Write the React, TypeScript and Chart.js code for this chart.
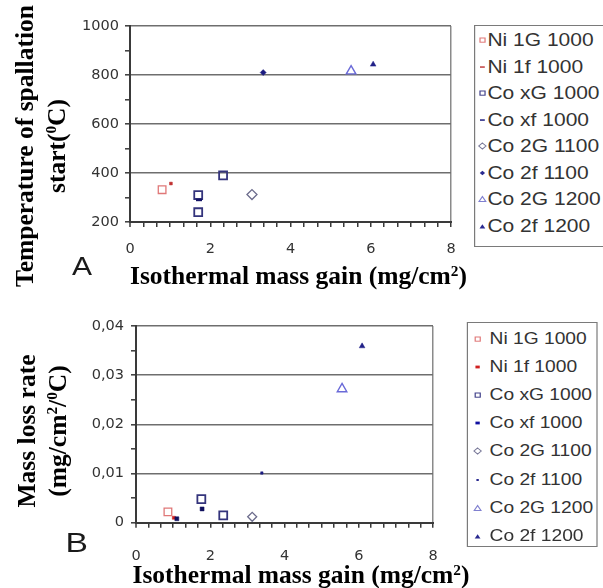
import React, { useEffect, useRef } from "react";
import { Chart, registerables } from "chart.js";

Chart.register(...registerables);

// ---------- DATA ----------
const seriesNames = [
  "Ni 1G 1000",
  "Ni 1f 1000",
  "Co xG 1000",
  "Co xf 1000",
  "Co 2G 1100",
  "Co 2f 1100",
  "Co 2G 1200",
  "Co 2f 1200",
];

const xTickValues = [0, 2, 4, 6, 8];
const xTickLabels = ["0", "2", "4", "6", "8"];
const spallTickValues = [200, 400, 600, 800, 1000];
const spallTickLabels = ["200", "400", "600", "800", "1000"];
const lossTickValues = [0, 0.01, 0.02, 0.03, 0.04];
const lossTickLabels = ["0", "0,01", "0,02", "0,03", "0,04"];

// Panel A: temperature of spallation start vs isothermal mass gain
const spallNi1G1000 = [[0.8, 332]];
const spallNi1f1000 = [[1.02, 357]];
const spallCoxG1000 = [[1.7, 310], [1.7, 240], [2.32, 390]];
const spallCoxf1000 = [[1.72, 290]];
const spallCo2G1100 = [[3.04, 312]];
const spallCo2f1100 = [[3.32, 810]];
const spallCo2G1200 = [[5.51, 816]];
const spallCo2f1200 = [[6.06, 843]];

// Panel B: mass loss rate vs isothermal mass gain
const lossNi1G1000 = [[0.86, 0.0022]];
const lossNi1f1000 = [[1.02, 0.001]];
const lossCoxG1000 = [[1.76, 0.0048], [2.35, 0.0015]];
const lossCoxf1000 = [[1.1, 0.0008], [1.78, 0.0028]];
const lossCo2G1100 = [[3.13, 0.0012]];
const lossCo2f1100 = [[3.39, 0.0101]];
const lossCo2G1200 = [[5.55, 0.0272]];
const lossCo2f1200 = [[6.09, 0.0359]];

// ---------- STYLES ----------
type Mark = { style: string; r: number; stroke: string; fill: string; bw: number };
const NONE = "rgba(0,0,0,0)";

const marksA: Mark[] = [
  { style: "rect", r: 5.4, stroke: "#e07878", fill: NONE, bw: 1.3 },
  { style: "rect", r: 2, stroke: "#c03030", fill: "#c03030", bw: 0.5 },
  { style: "rect", r: 5.6, stroke: "#34347c", fill: NONE, bw: 1.8 },
  { style: "line", r: 3, stroke: "#141466", fill: "#141466", bw: 2.5 },
  { style: "rectRot", r: 5, stroke: "#6c6c8c", fill: NONE, bw: 1.3 },
  { style: "rectRot", r: 3, stroke: "#1c1c80", fill: "#1c1c80", bw: 0.5 },
  { style: "triangle", r: 5.5, stroke: "#6a6ad8", fill: NONE, bw: 1.4 },
  { style: "triangle", r: 3.3, stroke: "#202088", fill: "#202088", bw: 0.5 },
];
const marksB: Mark[] = [
  { style: "rect", r: 5.4, stroke: "#e07878", fill: NONE, bw: 1.3 },
  { style: "rect", r: 2.2, stroke: "#d02020", fill: "#d02020", bw: 0.5 },
  { style: "rect", r: 5.6, stroke: "#34347c", fill: NONE, bw: 1.8 },
  { style: "rect", r: 2.8, stroke: "#10105e", fill: "#10105e", bw: 0.5 },
  { style: "rectRot", r: 4.5, stroke: "#6c6c8c", fill: NONE, bw: 1.3 },
  { style: "rect", r: 1.7, stroke: "#1c1c80", fill: "#1c1c80", bw: 0.5 },
  { style: "triangle", r: 5.5, stroke: "#6a6ad8", fill: NONE, bw: 1.4 },
  { style: "triangle", r: 3.3, stroke: "#202088", fill: "#202088", bw: 0.5 },
];

const legendA: [string, string][] = [
  ["osq", "#e07878"], ["dash", "#c04040"], ["osq", "#40408a"], ["dash", "#202080"],
  ["odia", "#7a7a9a"], ["fdia", "#2a2a90"], ["otri", "#8080d0"], ["ftri", "#2a2a90"],
];
const legendB: [string, string][] = [
  ["osq", "#e07878"], ["fsq", "#d02020"], ["osq", "#40408a"], ["fsq", "#1010a0"],
  ["odia", "#7a7a9a"], ["dot", "#2a2a90"], ["otri", "#8080d0"], ["ftri", "#2a2a90"],
];

const SX = 1.2; // horizontal stretch of the embedded legend / letter picture
const TICK_FONT = { family: "'DejaVu Sans', 'Liberation Sans', sans-serif", size: 14.5 };
const TITLE_FONT = "bold 25.5px 'Liberation Serif', 'Times New Roman', serif";
const X_MINOR = 1 / 3;

function labelFor(v: number, vals: number[], labels: string[]) {
  const i = vals.findIndex((t) => Math.abs(t - v) < 1e-9);
  return i >= 0 ? labels[i] : "";
}

type PanelCfg = {
  series: number[][][];
  marks: Mark[];
  yMin: number;
  yMax: number;
  yStep: number;
  yMinor: number;
  yVals: number[];
  yLabels: string[];
  yAxisW: number;
  padRight: number;
  padTop: number;
  xAxisH: number;
  xPad: number;
  yPad: number;
};

const CW = 410;
const CH = 252;

function isNear(v: number, t: number) {
  return Math.abs(v - t) < 1e-9;
}

function ScatterCanvas({ cfg, left, top }: { cfg: PanelCfg; left: number; top: number }) {
  const ref = useRef<HTMLCanvasElement>(null);
  useEffect(() => {
    const canvas = ref.current!;
    const datasets = cfg.series.map((pts, i) => ({
      label: seriesNames[i],
      data: pts.map(([x, y]) => ({ x, y })),
      pointStyle: cfg.marks[i].style as any,
      pointRadius: cfg.marks[i].r,
      pointBorderWidth: cfg.marks[i].bw,
      pointBorderColor: cfg.marks[i].stroke,
      pointBackgroundColor: cfg.marks[i].fill,
      borderColor: cfg.marks[i].stroke,
      backgroundColor: cfg.marks[i].fill,
      showLine: false,
      order: -i,
    }));
    const chart = new Chart(canvas, {
      type: "scatter",
      data: { datasets },
      options: {
        animation: false,
        responsive: false,
        events: [],
        layout: {
          autoPadding: false,
          padding: { left: 0, right: cfg.padRight, top: cfg.padTop, bottom: 0 },
        },
        plugins: { legend: { display: false }, tooltip: { enabled: false } },
        scales: {
          x: {
            type: "linear",
            min: 0,
            max: 8,
            afterBuildTicks: (s: any) => {
              const t: any[] = [];
              const n = Math.round(8 / X_MINOR);
              for (let i = 0; i <= n; i++) t.push({ value: i * X_MINOR });
              s.ticks = t;
            },
            ticks: {
              autoSkip: false,
              maxRotation: 0,
              padding: cfg.xPad - 5,
              color: "#333",
              font: TICK_FONT,
              callback: (v: any) => labelFor(Number(v), xTickValues, xTickLabels),
            },
            grid: {
              display: true,
              drawOnChartArea: true,
              drawTicks: true,
              tickLength: 5,
              lineWidth: (c: any) => (c.tick && isNear(c.tick.value, 0) ? 2 : 1.5),
              color: (c: any) => {
                const v = c.tick ? c.tick.value : NaN;
                if (isNear(v, 0)) return "#3a3a3a";
                if (isNear(v, 8)) return "#8a8a8a";
                return NONE;
              },
              tickColor: "#3a3a3a",
              tickWidth: 1.5,
            },
            border: { display: true, color: "#3a3a3a", width: 2 },
            afterFit: (s: any) => {
              s.height = cfg.xAxisH;
            },
          },
          y: {
            type: "linear",
            min: cfg.yMin,
            max: cfg.yMax,
            afterBuildTicks: (s: any) => {
              const t: any[] = [];
              const n = Math.round((cfg.yMax - cfg.yMin) / cfg.yMinor);
              for (let i = 0; i <= n; i++) t.push({ value: cfg.yMin + i * cfg.yMinor });
              s.ticks = t;
            },
            ticks: {
              autoSkip: false,
              padding: cfg.yPad - 5,
              color: "#333",
              font: TICK_FONT,
              callback: (v: any) => labelFor(Number(v), cfg.yVals, cfg.yLabels),
            },
            grid: {
              drawOnChartArea: true,
              drawTicks: true,
              tickLength: 5,
              lineWidth: 1.6,
              color: (c: any) =>
                c.tick && labelFor(c.tick.value, cfg.yVals, cfg.yLabels) !== "" ? "#6e6e6e" : NONE,
              tickColor: "#3a3a3a",
              tickWidth: 1.5,
            },
            border: { display: true, color: "#3a3a3a", width: 2 },
            afterFit: (s: any) => {
              s.width = cfg.yAxisW;
            },
          },
        },
      } as any,
    });
    return () => chart.destroy();
  }, []);
  return (
    <canvas
      ref={ref}
      width={CW}
      height={CH}
      style={{ position: "absolute", left, top, width: CW, height: CH }}
    />
  );
}

function Marker({ kind, color }: { kind: string; color: string }) {
  let el: any = null;
  if (kind === "osq") el = <rect x={2} y={2} width={4.2} height={4.2} fill="none" stroke={color} strokeWidth={1} />;
  else if (kind === "fsq") el = <rect x={2.2} y={2.6} width={3.6} height={2.8} fill={color} />;
  else if (kind === "dash") el = <rect x={2} y={3.3} width={4} height={1.5} fill={color} />;
  else if (kind === "odia") el = <polygon points="4,1 7,4 4,7 1,4" fill="none" stroke={color} strokeWidth={1} />;
  else if (kind === "fdia") el = <polygon points="4,1.8 6.2,4 4,6.2 1.8,4" fill={color} />;
  else if (kind === "otri") el = <polygon points="4,1.5 6.8,6.5 1.2,6.5" fill="none" stroke={color} strokeWidth={1} />;
  else if (kind === "ftri") el = <polygon points="4,2.2 6.4,6.4 1.6,6.4" fill={color} />;
  else if (kind === "dot") el = <rect x={3} y={3} width={2} height={2} fill={color} />;
  return (
    <svg width={8} height={8} viewBox="0 0 8 8" style={{ display: "block" }}>
      {el}
    </svg>
  );
}

function Legend(props: {
  items: [string, string][];
  left: number;
  top: number;
  width: number;
  height: number;
  padTop: number;
  rowH: number;
  fontSize: number;
  markerX: number;
  textX: number;
}) {
  const { items, left, top, width, height, padTop, rowH, fontSize, markerX, textX } = props;
  return (
    <div
      style={{
        position: "absolute",
        left,
        top,
        width,
        height,
        boxSizing: "border-box",
        border: "1px solid #7a7a7a",
        background: "#fff",
      }}
    >
      {items.map(([kind, color], i) => (
        <div
          key={i}
          style={{
            position: "absolute",
            left: 0,
            top: padTop + i * rowH,
            height: rowH,
            width: "100%",
          }}
        >
          <div style={{ position: "absolute", left: markerX - 4, top: rowH / 2 - 4 }}>
            <Marker kind={kind} color={color} />
          </div>
          <div
            style={{
              position: "absolute",
              left: textX,
              top: 0,
              lineHeight: rowH + "px",
              fontFamily: "'Liberation Sans', Arial, sans-serif",
              fontSize,
              color: "#333",
              whiteSpace: "nowrap",
            }}
          >
            {seriesNames[i]}
          </div>
        </div>
      ))}
    </div>
  );
}

const cfgA: PanelCfg = {
  series: [
    spallNi1G1000, spallNi1f1000, spallCoxG1000, spallCoxf1000,
    spallCo2G1100, spallCo2f1100, spallCo2G1200, spallCo2f1200,
  ],
  marks: marksA,
  yMin: 200,
  yMax: 1000,
  yStep: 200,
  yMinor: 100,
  yVals: spallTickValues,
  yLabels: spallTickLabels,
  yAxisW: 130 - 60,
  padRight: CW - (451 - 60),
  padTop: 16,
  xAxisH: 40,
  xPad: 19,
  yPad: 11,
};

const cfgB: PanelCfg = {
  series: [
    lossNi1G1000, lossNi1f1000, lossCoxG1000, lossCoxf1000,
    lossCo2G1100, lossCo2f1100, lossCo2G1200, lossCo2f1200,
  ],
  marks: marksB,
  yMin: 0,
  yMax: 0.04,
  yStep: 0.01,
  yMinor: 0.005,
  yVals: lossTickValues,
  yLabels: lossTickLabels,
  yAxisW: 136 - 60,
  padRight: CW - (433 - 60),
  padTop: 16,
  xAxisH: 39.3,
  xPad: 25,
  yPad: 12,
};

function Title({ cx, top, children }: { cx: number; top: number; children: any }) {
  return (
    <div
      style={{
        position: "absolute",
        left: cx - 250,
        top,
        width: 500,
        textAlign: "center",
        font: TITLE_FONT,
        lineHeight: "30px",
        color: "#000",
        whiteSpace: "nowrap",
      }}
    >
      {children}
    </div>
  );
}

function VTitle({ cx, cy, lineH, lines }: { cx: number; cy: number; lineH: number; lines: any[] }) {
  const w = 340;
  const h = lineH * lines.length;
  return (
    <div
      style={{
        position: "absolute",
        left: cx - w / 2,
        top: cy - h / 2,
        width: w,
        height: h,
        transform: "rotate(-90deg)",
        transformOrigin: "50% 50%",
        textAlign: "center",
        font: TITLE_FONT,
        lineHeight: lineH + "px",
        color: "#000",
        whiteSpace: "nowrap",
      }}
    >
      {lines.map((l, i) => (
        <div key={i}>{l}</div>
      ))}
    </div>
  );
}

const supStyle: any = { fontSize: "60%", verticalAlign: "top", lineHeight: 1, position: "relative", top: 2 };

export default function App() {
  return (
    <div
      style={{
        position: "absolute",
        left: 0,
        top: 0,
        width: 603,
        height: 588,
        overflow: "hidden",
        background: "#fff",
      }}
    >
      <ScatterCanvas cfg={cfgA} left={60} top={10} />
      <ScatterCanvas cfg={cfgB} left={60} top={310} />

      {/* Panel A legend + letter (stretched picture) */}
      <div
        style={{
          position: "absolute",
          left: 60,
          top: 0,
          width: 452.5,
          height: 300,
          transform: `scaleX(${SX})`,
          transformOrigin: "0 0",
          pointerEvents: "none",
        }}
      >
        <Legend
          items={legendA}
          left={(474 - 60) / SX}
          top={25}
          width={112}
          height={222}
          padTop={1}
          rowH={26.5}
          fontSize={17.5}
          markerX={5.6}
          textX={10.2}
        />
        <div
          style={{
            position: "absolute",
            left: 10,
            top: 253.7,
            fontFamily: "'Liberation Sans', Arial, sans-serif",
            fontSize: 25,
            lineHeight: "25px",
            color: "#1a1a1a",
          }}
        >
          A
        </div>
      </div>

      {/* Panel B legend + letter (stretched picture) */}
      <div
        style={{
          position: "absolute",
          left: 60,
          top: 300,
          width: 452.5,
          height: 288,
          transform: `scaleX(${SX})`,
          transformOrigin: "0 0",
          pointerEvents: "none",
        }}
      >
        <Legend
          items={legendB}
          left={(467 - 60) / SX}
          top={22}
          width={109}
          height={225}
          padTop={2}
          rowH={28.1}
          fontSize={16}
          markerX={8.3}
          textX={17.8}
        />
        <div
          style={{
            position: "absolute",
            left: 4.5,
            top: 229.3,
            fontFamily: "'Liberation Sans', Arial, sans-serif",
            fontSize: 28,
            lineHeight: "28px",
            color: "#1a1a1a",
          }}
        >
          B
        </div>
      </div>

      {/* Titles (document text, not stretched) */}
      <VTitle
        cx={40.5}
        cy={146}
        lineH={32}
        lines={[
          "Temperature of spallation",
          <span>
            start(<sup style={supStyle}>0</sup>C)
          </span>,
        ]}
      />
      <Title cx={298.5} top={260.5}>
        Isothermal mass gain (mg/cm<sup style={supStyle}>2</sup>)
      </Title>

      <VTitle
        cx={42}
        cy={431}
        lineH={31}
        lines={[
          "Mass loss rate",
          <span>
            (mg/cm<sup style={supStyle}>2</sup>/<sup style={supStyle}>0</sup>C)
          </span>,
        ]}
      />
      <Title cx={301} top={560}>
        Isothermal mass gain (mg/cm<sup style={supStyle}>2</sup>)
      </Title>
    </div>
  );
}
